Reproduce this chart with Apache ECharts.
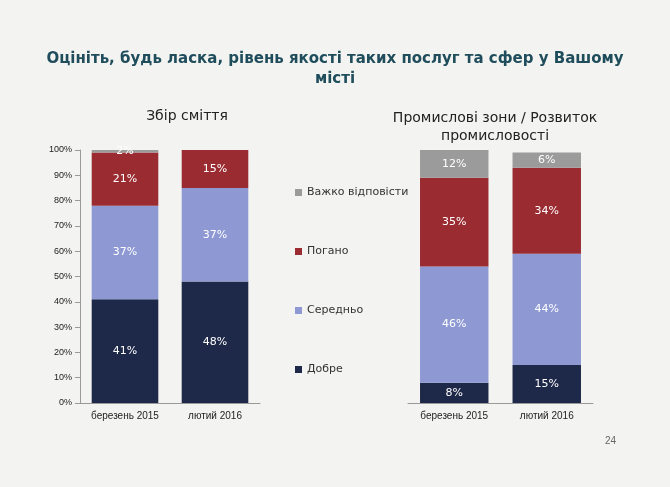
<!DOCTYPE html><html><head><meta charset="utf-8"><script src="https://cdn.jsdelivr.net/npm/echarts@6/dist/echarts.min.js"></script>
<style>html,body{margin:0;background:#f3f3f1}#c{width:670px;height:487px}</style></head><body><div id="c"></div><script>
const categories=['березень 2015','лютий 2016'];
const seriesNames=['Добре','Середньо','Погано','Важко відповісти'];
const leftValues=[[41,48],[37,37],[21,15],[2,0]];
const rightValues=[[8,15],[46,44],[35,34],[12,6]];
const colors=['#1e2848','#8e99d4','#9a2b31','#9b9b9b'];
const ch=echarts.init(document.getElementById('c'));
const series=[];
[leftValues,rightValues].forEach((vals,g)=>{vals.forEach((v,i)=>{series.push({name:seriesNames[i],type:'bar',stack:'s'+g,xAxisIndex:g,yAxisIndex:g,barWidth:'74%',data:v,itemStyle:{color:colors[i]},
label:{show:true,formatter:p=>p.value>0?p.value+'%':'',color:'#ffffff',fontSize:11,fontFamily:'DejaVu Sans'}})})});
ch.setOption({backgroundColor:'#f3f3f1',animation:false,
title:[{text:'Оцініть, будь ласка, рівень якості таких послуг та сфер у Вашому\nмісті',left:'center',top:44,textStyle:{fontSize:15,fontWeight:'bold',color:'#1f4d5c',lineHeight:20,fontFamily:'DejaVu Sans'}},
{text:'Збір сміття',left:182,textAlign:'center',top:104,textStyle:{fontSize:14,fontWeight:'normal',color:'#222',fontFamily:'DejaVu Sans'}},
{text:'Промислові зони / Розвиток\nпромисловості',left:490,textAlign:'center',top:104,textStyle:{fontSize:14,fontWeight:'normal',color:'#222',lineHeight:18,fontFamily:'DejaVu Sans'}},
{text:'24',left:600,top:431,textStyle:{fontSize:10,fontWeight:'normal',color:'#666'}}],
legend:{orient:'vertical',left:290,top:182,itemGap:48,itemWidth:7,itemHeight:7,icon:'rect',data:seriesNames.slice().reverse(),textStyle:{fontSize:11,color:'#333',fontFamily:'DejaVu Sans'}},
grid:[{left:80,top:150,width:180,height:253},{left:408,top:150,width:185,height:253}],
xAxis:[0,1].map(i=>({type:'category',gridIndex:i,data:categories,axisTick:{show:false},axisLine:{lineStyle:{color:'#999'}},axisLabel:{fontSize:10,color:'#222',margin:8}})),
yAxis:[0,1].map(i=>({type:'value',gridIndex:i,min:0,max:100,interval:10,show:i===0,splitLine:{show:false},axisLine:{show:i===0,lineStyle:{color:'#999'}},axisTick:{show:i===0},axisLabel:{formatter:'{value}%',fontSize:9,color:'#222'}})),
series});
</script></body></html>
